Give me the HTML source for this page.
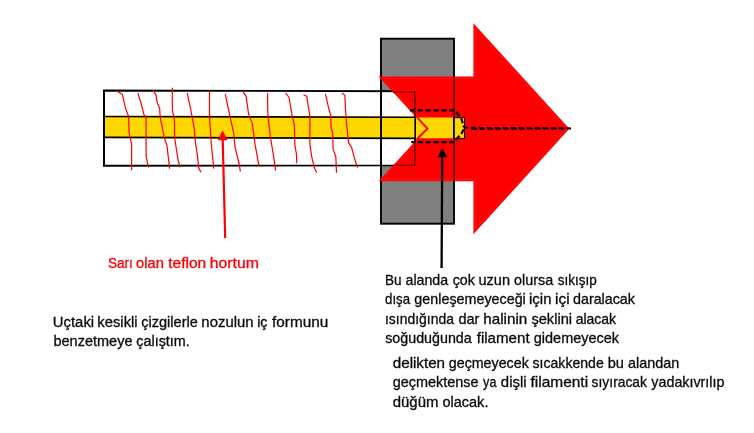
<!DOCTYPE html>
<html lang="tr">
<head>
<meta charset="utf-8">
<title>Teflon hortum</title>
<style>
html,body{margin:0;padding:0;background:#fff;}
body{width:754px;height:433px;overflow:hidden;position:relative;}
svg{position:absolute;left:0;top:0;display:block;will-change:transform;}
text{font-family:"Liberation Sans",sans-serif;font-size:14.1px;fill:#0a0a0a;stroke:#0a0a0a;stroke-width:0.3px;}
text.red{fill:#f00;stroke:#f00;}
.sq{fill:none;stroke:#f00;stroke-width:1.2;stroke-linejoin:round;stroke-linecap:round;}
</style>
</head>
<body>
<svg width="754" height="433" viewBox="0 0 754 433">
<rect x="0" y="0" width="754" height="433" fill="#fff"/>
<!-- grey block -->
<rect x="381" y="38.7" width="73" height="185" fill="#808080" stroke="#000" stroke-width="1.9"/>
<!-- tube -->
<polygon points="104,90.5 415,91.2 415,165.4 104,165.8" fill="#fff" stroke="#000" stroke-width="1.9"/>
<!-- red block arrow -->
<polygon points="378.6,76.6 473.4,76.6 473.4,23.3 569.3,128.7 473.4,234.2 473.4,181.3 378.6,181.3 426.6,128.7" fill="#f00"/>
<polygon points="383.2,78.6 429.3,128.7 383.1,179.3 475.4,179.3 475.4,229.0 566.6,128.7 475.4,28.5 475.4,78.6" fill="none" stroke="#ff2222" stroke-width="0.6"/>
<!-- lines showing through -->
<g stroke="#000" fill="none">
<line x1="381" y1="80.6" x2="381" y2="177.5" stroke-width="2"/>
<line x1="393" y1="92.1" x2="415" y2="92.1" stroke-width="0.75" stroke="#200"/>
<line x1="393" y1="165.3" x2="415" y2="165.3" stroke-width="0.75" stroke="#200"/>
<line x1="414.8" y1="91.4" x2="414.8" y2="165.8" stroke-width="0.9"/>
<line x1="454.1" y1="76" x2="454.1" y2="182" stroke-width="1.1"/>
</g>
<!-- yellow hose -->
<polygon points="104,116.6 415,117.4 464.5,117.6 464.5,138.3 415,138.3 104,137.4" fill="#ffd700"/>
<g stroke="#000" fill="none">
<line x1="104" y1="116.5" x2="415" y2="117.3" stroke-width="1.6"/>
<line x1="104" y1="137.4" x2="415" y2="138.4" stroke-width="1.6"/>
<line x1="104" y1="90" x2="104" y2="166.3" stroke-width="2"/>
<line x1="381" y1="116" x2="381" y2="139" stroke-width="2"/>
<line x1="415.2" y1="116.4" x2="415.2" y2="138.8" stroke-width="1.6"/>
<line x1="453.9" y1="117" x2="453.9" y2="139" stroke-width="1.8"/>
<polyline points="454,117.6 464.5,117.6 464.5,138.4 454,138.4" stroke-width="1"/>
</g>
<!-- red chevron -->
<polyline points="417,117.2 427.4,128.7 417,139" fill="none" stroke="#f00" stroke-width="2"/>
<!-- squiggles -->
<g class="sq">
<polyline points="118.3,91.9 122.4,94.4 125.4,107.9 128.5,116.2 129.1,132.8 131.6,144.2 131.6,169.8"/>
<polyline points="138,93.3 140.9,102.7 144.1,115.1 146.1,117.2 146.1,155.6 148.2,167.1"/>
<polyline points="153.6,90.6 156.1,95.4 157.1,102.7 159.6,107.9 160.3,118.2 164.4,138 166.9,145.3 169.6,168.1"/>
<polyline points="172.3,88.1 172.3,109.9 174.4,119.3 174.8,139 177.9,158.8 180,167"/>
<polyline points="187.3,93.3 190.4,107.9 194.1,127.6 195,139 197.7,157.7 198.7,168.1 200.8,171.9"/>
<polyline points="209.5,91.2 209.5,116.2 211.2,143.2 213.7,168.1"/>
<polyline points="225.3,94.4 229.9,116.2 233.6,132.8 235.1,147.3 239.2,164 240.3,171.2"/>
<polyline points="243.4,92.3 246.1,96.4 248.6,114.1 252.3,123.4 254.8,143.2 259,166"/>
<polyline points="267.5,93.3 267.9,115.1 270.4,137 273.5,155.6 275.6,170.2"/>
<polyline points="286,93.3 289.1,97.5 292.2,116.2 294.3,124.5 294.9,145.3 296.4,153.6 296.8,162.9"/>
<polyline points="304,95 306.8,96.4 308.2,105.8 309.9,116.2 309.9,145.3 311.9,157.7 314.4,168.1 316.5,172.3"/>
<polyline points="325.5,94.4 328.6,107.9 330.6,115.1 331.1,128.6 332.7,132.8 333.1,149.4 335.8,156.7 336.5,172.3"/>
<polyline points="342.4,93.3 344.9,95.4 345.4,107.9 346.6,124.5 348.7,143.2 351.6,147.3 354.3,157.7 357.4,167.1"/>
</g>
<!-- dashed nozzle outline -->
<g stroke="#000" stroke-width="2.2" fill="none" stroke-dasharray="5.4 2.45">
<polyline points="409.9,110.3 455,110.3 461.5,119 464,127.5"/>
<polyline points="411.3,142.2 453.6,142.2 461.5,133.5 464,129" stroke-dashoffset="1.4"/>
<line x1="464.5" y1="127.6" x2="571" y2="128.3" stroke-width="1.7" stroke-dasharray="5.5 2.47" stroke-dashoffset="1.9"/>
<line x1="470.5" y1="129.1" x2="571" y2="128.5" stroke-width="1.7" stroke-dasharray="5.5 2.47" stroke-dashoffset="6.9"/>
</g>
<!-- red pointer arrow -->
<line x1="222.7" y1="139" x2="225.2" y2="238" stroke="#f00" stroke-width="2.2"/>
<polygon points="222.6,130.2 227.7,140.2 217.7,140.2" fill="#f00"/>
<!-- black pointer arrow -->
<line x1="442.2" y1="156" x2="441.6" y2="268" stroke="#000" stroke-width="2.3"/>
<polygon points="442.3,148.3 447.3,157.2 437.3,157.2" fill="#000"/>
<!-- texts -->
<g id="labels">
<text class="red" y="268.2"><tspan x="107.99" textLength="24.80" lengthAdjust="spacingAndGlyphs">Sarı</tspan> <tspan x="136.06" textLength="27.79" lengthAdjust="spacingAndGlyphs">olan</tspan> <tspan x="168.23" textLength="38.00" lengthAdjust="spacingAndGlyphs">teflon</tspan> <tspan x="209.70" textLength="49.14" lengthAdjust="spacingAndGlyphs">hortum</tspan></text>
<text y="326.9"><tspan x="52.85" textLength="41.28" lengthAdjust="spacingAndGlyphs">Uçtaki</tspan> <tspan x="97.33" textLength="40.30" lengthAdjust="spacingAndGlyphs">kesikli</tspan> <tspan x="141.21" textLength="56.63" lengthAdjust="spacingAndGlyphs">çizgilerle</tspan> <tspan x="201.39" textLength="52.17" lengthAdjust="spacingAndGlyphs">nozulun</tspan> <tspan x="257.24" textLength="10.21" lengthAdjust="spacingAndGlyphs">iç</tspan> <tspan x="272.05" textLength="56.27" lengthAdjust="spacingAndGlyphs">formunu</tspan></text>
<text y="346.4"><tspan x="53.47" textLength="78.99" lengthAdjust="spacingAndGlyphs">benzetmeye</tspan> <tspan x="136.32" textLength="53.39" lengthAdjust="spacingAndGlyphs">çalıştım.</tspan></text>
<text y="284.8"><tspan x="384.89" textLength="16.52" lengthAdjust="spacingAndGlyphs">Bu</tspan> <tspan x="405.54" textLength="42.60" lengthAdjust="spacingAndGlyphs">alanda</tspan> <tspan x="452.71" textLength="22.28" lengthAdjust="spacingAndGlyphs">çok</tspan> <tspan x="478.52" textLength="31.53" lengthAdjust="spacingAndGlyphs">uzun</tspan> <tspan x="514.08" textLength="39.13" lengthAdjust="spacingAndGlyphs">olursa</tspan> <tspan x="557.79" textLength="38.97" lengthAdjust="spacingAndGlyphs">sıkışıp</tspan></text>
<text y="304.2"><tspan x="385.05" textLength="24.98" lengthAdjust="spacingAndGlyphs">dışa</tspan> <tspan x="414.35" textLength="111.45" lengthAdjust="spacingAndGlyphs">genleşemeyeceği</tspan> <tspan x="529.00" textLength="22.46" lengthAdjust="spacingAndGlyphs">için</tspan> <tspan x="555.00" textLength="14.57" lengthAdjust="spacingAndGlyphs">içi</tspan> <tspan x="573.02" textLength="61.96" lengthAdjust="spacingAndGlyphs">daralacak</tspan></text>
<text y="323.6"><tspan x="384.98" textLength="68.99" lengthAdjust="spacingAndGlyphs">ısındığında</tspan> <tspan x="458.45" textLength="20.98" lengthAdjust="spacingAndGlyphs">dar</tspan> <tspan x="483.32" textLength="43.92" lengthAdjust="spacingAndGlyphs">halinin</tspan> <tspan x="531.41" textLength="40.69" lengthAdjust="spacingAndGlyphs">şeklini</tspan> <tspan x="575.68" textLength="40.40" lengthAdjust="spacingAndGlyphs">alacak</tspan></text>
<text y="342.8"><tspan x="385.20" textLength="86.55" lengthAdjust="spacingAndGlyphs">soğuduğunda</tspan> <tspan x="476.70" textLength="52.93" lengthAdjust="spacingAndGlyphs">filament</tspan> <tspan x="533.83" textLength="85.15" lengthAdjust="spacingAndGlyphs">gidemeyecek</tspan></text>
<text y="367.8"><tspan x="392.76" textLength="52.31" lengthAdjust="spacingAndGlyphs">delikten</tspan> <tspan x="448.81" textLength="79.96" lengthAdjust="spacingAndGlyphs">geçmeyecek</tspan> <tspan x="532.59" textLength="71.12" lengthAdjust="spacingAndGlyphs">sıcakkende</tspan> <tspan x="607.78" textLength="16.22" lengthAdjust="spacingAndGlyphs">bu</tspan> <tspan x="628.01" textLength="51.33" lengthAdjust="spacingAndGlyphs">alandan</tspan></text>
<text y="387.2"><tspan x="392.79" textLength="85.82" lengthAdjust="spacingAndGlyphs">geçmektense</tspan> <tspan x="483.10" textLength="13.32" lengthAdjust="spacingAndGlyphs">ya</tspan> <tspan x="500.88" textLength="25.74" lengthAdjust="spacingAndGlyphs">dişli</tspan> <tspan x="530.55" textLength="57.56" lengthAdjust="spacingAndGlyphs">filamenti</tspan> <tspan x="591.61" textLength="55.36" lengthAdjust="spacingAndGlyphs">sıyıracak</tspan> <tspan x="651.37" textLength="73.03" lengthAdjust="spacingAndGlyphs">yadakıvrılıp</tspan></text>
<text y="406.6"><tspan x="392.77" textLength="45.62" lengthAdjust="spacingAndGlyphs">düğüm</tspan> <tspan x="442.42" textLength="46.01" lengthAdjust="spacingAndGlyphs">olacak.</tspan></text>
</g>
</svg>
</body>
</html>
